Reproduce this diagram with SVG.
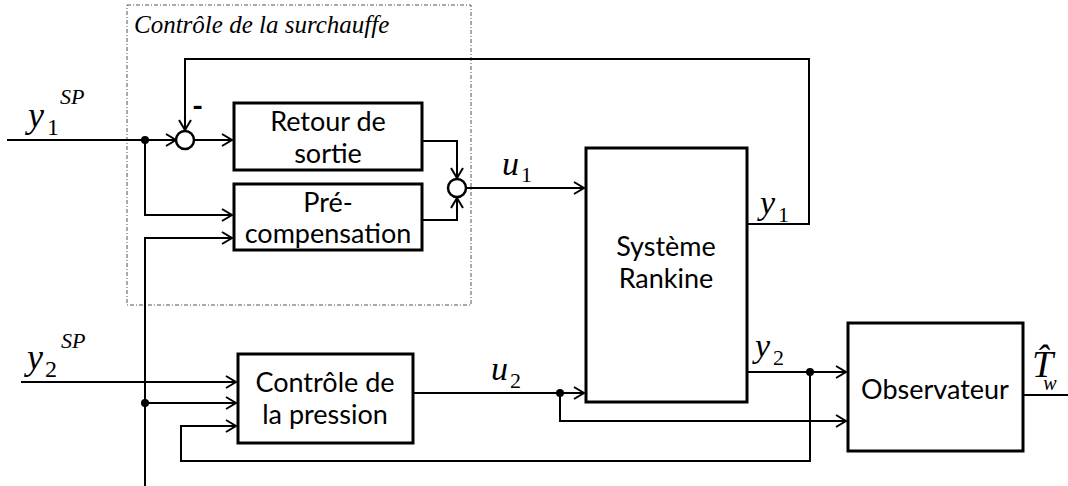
<svg xmlns="http://www.w3.org/2000/svg" width="1068" height="486" viewBox="0 0 1068 486">
<defs>
<style>
.box{fill:#fff;stroke:#000;stroke-width:3}
.sum{fill:#fff;stroke:#000;stroke-width:2.5}
.ln{fill:none;stroke:#000;stroke-width:2}
.dot{fill:#000}
.lbl{font-family:Lato,"Liberation Sans",sans-serif;font-size:27px;fill:#000;text-anchor:middle}
.m{font-family:"Liberation Serif",serif;font-style:italic;fill:#000}
.n{font-family:"Liberation Serif",serif;fill:#000}
</style>
<marker id="arr" viewBox="-12 -8 14 16" refX="0" refY="0" markerWidth="14" markerHeight="16" markerUnits="userSpaceOnUse" orient="auto">
<path d="M-10,-6 L0,0 L-10,6" fill="none" stroke="#000" stroke-width="2"/>
</marker>
</defs>
<rect width="1068" height="486" fill="#fff"/>

<g id="group-surchauffe">
<rect x="127" y="5" width="344" height="300" fill="none" stroke="#555" stroke-width="1" stroke-dasharray="4 2 1 2"/>
<text class="m" x="134" y="33" font-size="25">Contrôle de la surchauffe</text>
</g>

<g id="connectors">
<path class="ln" d="M7,140 H176" marker-end="url(#arr)"/>
<path class="ln" d="M194,140 H232" marker-end="url(#arr)"/>
<path class="ln" d="M185,131 V59 H809 V224 H748"/>
<path class="ln" d="M185,59 V130" marker-end="url(#arr)"/>
<path class="ln" d="M145,140 V215 H232" marker-end="url(#arr)"/>
<path class="ln" d="M145,486 V238 H232" marker-end="url(#arr)"/>
<path class="ln" d="M422,141 H457 V178" marker-end="url(#arr)"/>
<path class="ln" d="M422,220 H457 V198" marker-end="url(#arr)"/>
<path class="ln" d="M466,188 H584" marker-end="url(#arr)"/>
<path class="ln" d="M21,382 H236" marker-end="url(#arr)"/>
<path class="ln" d="M145,403 H236" marker-end="url(#arr)"/>
<path class="ln" d="M810,372 V461 H181 V426 H236" marker-end="url(#arr)"/>
<path class="ln" d="M413,393 H584" marker-end="url(#arr)"/>
<path class="ln" d="M560,393 V421 H846" marker-end="url(#arr)"/>
<path class="ln" d="M748,372 H846" marker-end="url(#arr)"/>
<path class="ln" d="M1023,395 H1068"/>
<circle class="dot" cx="145" cy="140" r="4"/>
<circle class="dot" cx="145" cy="403" r="4"/>
<circle class="dot" cx="560" cy="393" r="4"/>
<circle class="dot" cx="810" cy="372" r="4"/>
</g>

<g id="sum1">
<circle class="sum" cx="185" cy="140" r="9"/>
<text x="192" y="117" font-family="Lato,'Liberation Sans',sans-serif" font-size="30" font-weight="bold">-</text>
</g>
<g id="sum2">
<circle class="sum" cx="457" cy="188" r="9"/>
</g>

<g id="retour">
<rect class="box" x="234" y="103" width="188" height="67"/>
<text class="lbl" x="328" y="131">Retour de</text>
<text class="lbl" x="328" y="163">sortie</text>
</g>
<g id="precomp">
<rect class="box" x="234" y="184" width="188" height="66"/>
<text class="lbl" x="328" y="212">Pré-</text>
<text class="lbl" x="328" y="243">compensation</text>
</g>
<g id="pression">
<rect class="box" x="238" y="354" width="175" height="89"/>
<text class="lbl" x="325" y="392">Contrôle de</text>
<text class="lbl" x="325" y="424">la pression</text>
</g>
<g id="rankine">
<rect class="box" x="586" y="148" width="161" height="254"/>
<text class="lbl" x="666" y="256">Système</text>
<text class="lbl" x="666" y="288">Rankine</text>
</g>
<g id="observateur">
<rect class="box" x="848" y="323" width="175" height="128"/>
<text class="lbl" x="935" y="399">Observateur</text>
</g>

<g id="labels">
<text class="m" x="28" y="127" font-size="36">y</text>
<text class="n" x="47" y="135" font-size="24">1</text>
<text class="m" x="60" y="104" font-size="22">SP</text>

<text class="m" x="27" y="369" font-size="36">y</text>
<text class="n" x="45" y="377" font-size="24">2</text>
<text class="m" x="61" y="348" font-size="22">SP</text>

<text class="m" x="502" y="175" font-size="34">u</text>
<text class="n" x="521" y="182" font-size="22">1</text>

<text class="m" x="760" y="214" font-size="34">y</text>
<text class="n" x="778" y="222" font-size="22">1</text>

<text class="m" x="491" y="380" font-size="34">u</text>
<text class="n" x="510" y="388" font-size="22">2</text>

<text class="m" x="755" y="357" font-size="34">y</text>
<text class="n" x="773" y="365" font-size="22">2</text>

<text class="m" x="1032" y="377" font-size="38">T̂<tspan font-size="20" dx="-10" dy="13">w</tspan></text>
</g>
</svg>
